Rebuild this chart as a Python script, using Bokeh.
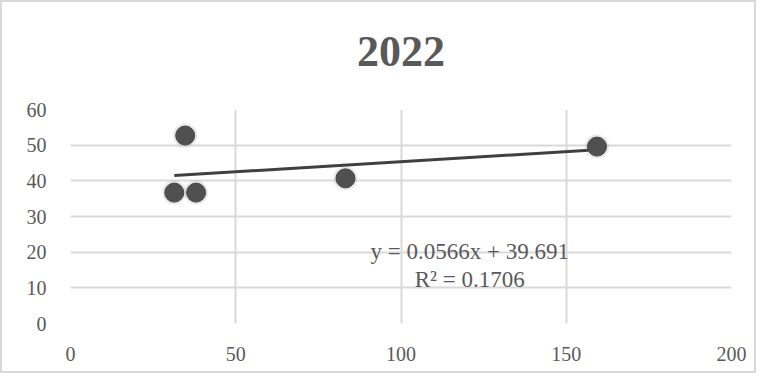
from bokeh.plotting import figure
from bokeh.models import Range1d, FixedTicker, Label, LinearAxis
from bokeh.embed import file_html
from bokeh.resources import INLINE

# ---- data ----
title_text = "2022"
x_vals = [31.4, 34.7, 38.0, 83.2, 159.3]
y_vals = [36.7, 52.7, 36.7, 40.7, 49.6]
slope = 0.0566
intercept = 39.691
r_squared = 0.1706
x_ticks = [0, 50, 100, 150, 200]
y_ticks = [0, 10, 20, 30, 40, 50, 60]

GRAY_TXT = "#595959"
GRID = "#d9d9d9"
SERIF = "Liberation Serif"

p = figure(width=756, height=373, output_backend="svg", toolbar_location=None,
           x_range=Range1d(0, 200), y_range=Range1d(0, 60),
           min_border_left=68, min_border_right=27, min_border_top=107, min_border_bottom=52)
p.styles = {"border": "2px solid #d9d9d9"}

p.outline_line_color = None
p.background_fill_color = "white"
p.border_fill_color = "white"

bottom_axis = p.below[0]
left_axis = p.left[0]

# chart title, carried by a bare axis above the plot area
title_axis = LinearAxis(ticker=FixedTicker(ticks=[]), axis_label=title_text)
title_axis.axis_line_color = None
title_axis.major_tick_line_color = None
title_axis.minor_tick_line_color = None
title_axis.major_tick_out = 0
title_axis.minor_tick_out = 0
title_axis.major_label_standoff = 0
title_axis.major_label_text_font_size = "0px"
title_axis.axis_label_standoff = 44
title_axis.axis_label_text_font = SERIF
title_axis.axis_label_text_font_size = "44px"
title_axis.axis_label_text_font_style = "bold"
title_axis.axis_label_text_color = GRAY_TXT
p.add_layout(title_axis, "above")

for ax, ticks in ((bottom_axis, x_ticks), (left_axis, y_ticks)):
    ax.ticker = FixedTicker(ticks=ticks)
    ax.axis_line_color = None
    ax.major_tick_line_color = None
    ax.minor_tick_line_color = None
    ax.major_label_text_font = SERIF
    ax.major_label_text_font_size = "20px"
    ax.major_label_text_color = GRAY_TXT
bottom_axis.major_label_standoff = 17
left_axis.major_label_standoff = 18

p.xgrid.ticker = FixedTicker(ticks=x_ticks)
p.ygrid.ticker = FixedTicker(ticks=y_ticks)
for g in (p.xgrid, p.ygrid):
    g.grid_line_color = GRID
    g.grid_line_width = 2

# trendline over the data extent
x0, x1 = min(x_vals), max(x_vals)
p.line([x0, x1], [slope * x0 + intercept, slope * x1 + intercept],
       line_color="#404040", line_width=3)

# soft shadow halo + points
p.scatter(x_vals, y_vals, size=24, fill_color="#808080", fill_alpha=0.18, line_color=None)
p.scatter(x_vals, y_vals, size=19, fill_color="#505050", line_color="#484848", line_width=1)

eq1 = f"y = {slope}x + {intercept}"
eq2 = f"R² = {r_squared}"
p.add_layout(Label(x=120.8, y=20.2, text=eq1, text_align="center", text_baseline="middle",
                   text_font=SERIF, text_font_size="23px", text_color=GRAY_TXT))
p.add_layout(Label(x=120.8, y=12.3, text=eq2, text_align="center", text_baseline="middle",
                   text_font=SERIF, text_font_size="23px", text_color=GRAY_TXT))

open("out.html", "w").write(file_html(p, INLINE))
